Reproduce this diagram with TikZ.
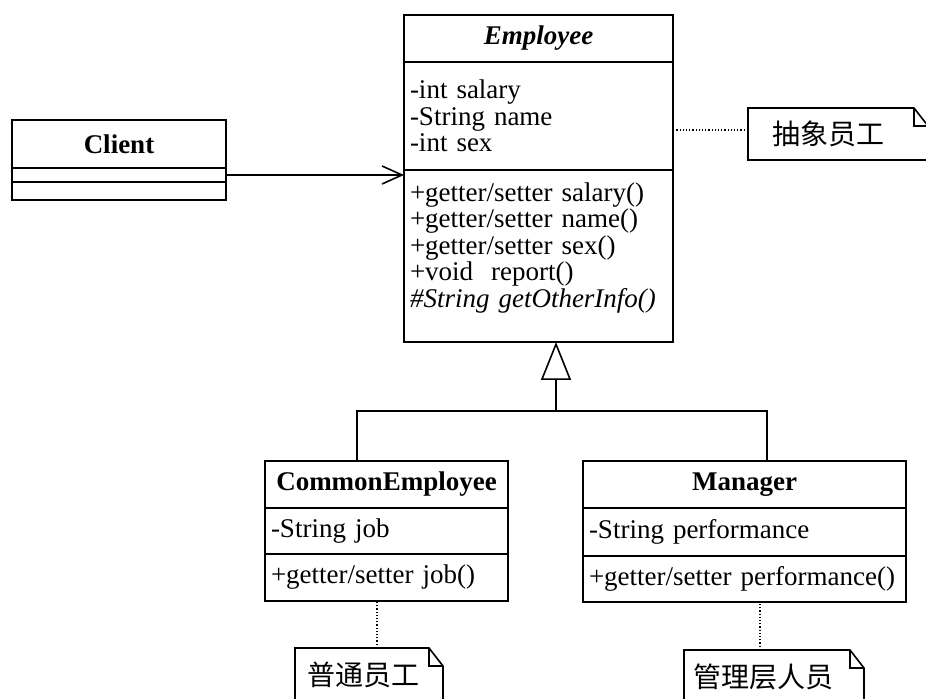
\documentclass[tikz,border=0pt]{standalone}
\usepackage{fontspec}
\setmainfont{Liberation Serif}
\newfontfamily\cjk{Noto Sans CJK SC}
\usetikzlibrary{arrows.meta,positioning}

\begin{document}
\begin{tikzpicture}[
  x=0.5pt, y=-0.5pt,
  node distance=0pt,
  font=\fontsize{13.5}{13.25}\selectfont,
  part/.style={draw, line width=0.8pt, outer sep=0pt, inner xsep=3pt, inner ysep=0pt},
  head/.style={part, align=center, font=\fontsize{13.5}{13.25}\selectfont\bfseries},
  body/.style={part, align=left},
  notebox/.style={inner ysep=0pt, outer sep=0pt, align=left, font=\fontsize{14}{16}\selectfont\cjk},
  noteline/.style={densely dotted, line width=0.6pt},
  link/.style={line width=0.8pt}
]
\clip (0,0) rectangle (926,699);

\node[head, anchor=north west, minimum width=134.5pt, minimum height=23.5pt, font=\fontsize{13.5}{13.25}\selectfont\bfseries\itshape] (emptitle) at (404,15) {Employee};
\node[body, below=of emptitle, text width=128.5pt, minimum height=54pt] (empattr) {-int salary\\-String name\\-int sex};
\node[body, below=of empattr, text width=128.5pt, minimum height=86pt] (empmeth) {+getter/setter salary()\\+getter/setter name()\\+getter/setter sex()\\+void\ \ report()\\\textit{\#String getOtherInfo()}\\[-2pt]\mbox{}};

\node[head, anchor=north west, minimum width=107pt, minimum height=24pt] (cltitle) at (12,120) {Client};
\node[part, below=of cltitle, minimum width=107pt, minimum height=7pt] (clattr) {};
\node[part, below=of clattr, minimum width=107pt, minimum height=9pt] (clmeth) {};

\node[head, anchor=north west, minimum width=121.5pt, minimum height=23.5pt] (cmtitle) at (265,461) {CommonEmployee};
\node[body, below=of cmtitle, text width=115.5pt, minimum height=23pt] (cmattr) {-String job};
\node[body, below=of cmattr, text width=115.5pt, minimum height=23.5pt] (cmmeth) {+getter/setter job()};

\node[head, anchor=north west, minimum width=161.5pt, minimum height=23.5pt] (mgtitle) at (583,461) {Manager};
\node[body, below=of mgtitle, text width=155.5pt, minimum height=24pt] (mgattr) {-String performance};
\node[body, below=of mgattr, text width=155.5pt, minimum height=23pt] (mgmeth) {+getter/setter performance()};

\node[notebox, anchor=north west, inner xsep=12pt, text width=66pt, minimum height=26pt] (na) at (748,108) {抽象员工};
\node[notebox, anchor=north west, inner xsep=6pt, text width=62pt, minimum height=27pt] (nb) at (295,648) {普通员工};
\node[notebox, anchor=north west, inner xsep=4.5pt, text width=81pt, minimum height=27pt] (nc) at (684,650) {管理层人员};

\foreach \n in {na,nb,nc}{
  \draw[link] (\n.south west) -- (\n.north west) -- ([xshift=-7pt]\n.north east) -- ([yshift=-9pt]\n.north east) -- (\n.south east) -- cycle;
  \draw[link] ([xshift=-7pt]\n.north east) |- ([yshift=-9pt]\n.north east);
}

\draw[link, -{Straight Barb[length=10pt,width=9pt]}] (clattr.east) -- (clattr.east -| empattr.west);

\coordinate (bus) at (556,411);
\draw[link, -{Triangle[open,length=19pt,width=15pt]}] (bus) -- (bus |- empmeth.south);
\draw[link] ([xshift=-14.75pt]cmtitle.north) |- (bus) -| ([xshift=11.25pt]mgtitle.north);

\draw[noteline] ([yshift=2pt]na.west) -- ([yshift=2pt]na.west -| empattr.east);
\draw[noteline] ([xshift=4pt]nb.north) -- ([xshift=4pt]nb.north |- cmmeth.south);
\draw[noteline] ([xshift=-7pt]nc.north) -- ([xshift=-7pt]nc.north |- mgmeth.south);
\end{tikzpicture}
\end{document}
